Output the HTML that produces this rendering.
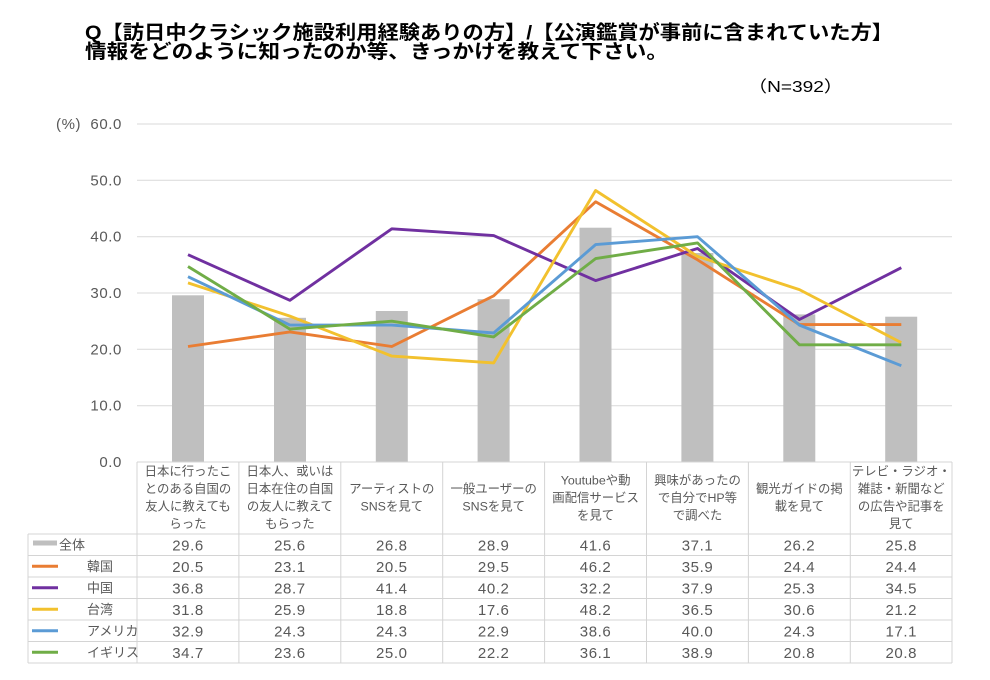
<!DOCTYPE html>
<html><head><meta charset="utf-8"><style>
html,body{margin:0;padding:0;background:#fff;}
svg{display:block;}
text{font-family:"Liberation Sans","Noto Sans CJK JP",sans-serif;}
.ax{font-size:15px;fill:#595959;letter-spacing:0.6px;}
.hd{font-size:12.4px;fill:#595959;text-anchor:middle;}
.v{font-size:15px;fill:#595959;text-anchor:middle;letter-spacing:0.6px;}
.lg{font-size:13px;fill:#595959;}
</style></head><body>
<svg width="990" height="680" viewBox="0 0 990 680" xmlns="http://www.w3.org/2000/svg">
<rect width="990" height="680" fill="#fff"/>
<!-- Title -->
<text x="85" y="39" font-size="19.5" font-weight="bold" fill="#000" textLength="808" lengthAdjust="spacingAndGlyphs">Q【訪日中クラシック施設利用経験ありの方】/【公演鑑賞が事前に含まれていた方】</text>
<text x="85" y="58" font-size="19.5" font-weight="bold" fill="#000" textLength="583" lengthAdjust="spacingAndGlyphs">情報をどのように知ったのか等、きっかけを教えて下さい。</text>
<text x="748" y="92" font-size="16" fill="#000" textLength="95" lengthAdjust="spacingAndGlyphs">（N=392）</text>

<!-- Gridlines -->
<g stroke="#d9d9d9" stroke-width="1">
<line x1="137" y1="124" x2="952" y2="124"/>
<line x1="137" y1="180.3" x2="952" y2="180.3"/>
<line x1="137" y1="236.7" x2="952" y2="236.7"/>
<line x1="137" y1="293" x2="952" y2="293"/>
<line x1="137" y1="349.3" x2="952" y2="349.3"/>
<line x1="137" y1="405.7" x2="952" y2="405.7"/>
</g>
<!-- Y labels -->
<g class="ax" text-anchor="end">
<text x="122" y="129">60.0</text>
<text x="122" y="185.3">50.0</text>
<text x="122" y="241.7">40.0</text>
<text x="122" y="298">30.0</text>
<text x="122" y="354.3">20.0</text>
<text x="122" y="410.7">10.0</text>
<text x="122" y="467">0.0</text>
</g>
<text class="ax" x="56" y="129">(%)</text>

<!-- Bars -->
<g fill="#bfbfbf">
<rect x="172" y="295.3" width="32" height="166.7"/>
<rect x="274" y="317.8" width="32" height="144.2"/>
<rect x="375.8" y="311" width="32" height="151"/>
<rect x="477.6" y="299.2" width="32" height="162.8"/>
<rect x="579.5" y="227.7" width="32" height="234.3"/>
<rect x="681.4" y="253" width="32" height="209"/>
<rect x="783.3" y="314.4" width="32" height="147.6"/>
<rect x="885.2" y="316.7" width="32" height="145.3"/>
</g>

<!-- Lines -->
<g fill="none" stroke-width="2.9" stroke-linejoin="round" stroke-linecap="butt">
<polyline stroke="#e97d33" points="188,346.5 289.9,331.9 391.8,346.5 493.7,295.8 595.6,201.8 697.5,259.8 799.4,324.6 901.3,324.6"/>
<polyline stroke="#7030a0" points="188,254.7 289.9,300.3 391.8,228.8 493.7,235.6 595.6,280.6 697.5,248.5 799.4,319.5 901.3,267.7"/>
<polyline stroke="#f2c12e" points="188,282.9 289.9,316.1 391.8,356.1 493.7,362.9 595.6,190.5 697.5,256.4 799.4,289.6 901.3,342.6"/>
<polyline stroke="#5b9bd5" points="188,276.7 289.9,325.1 391.8,325.1 493.7,333 595.6,244.6 697.5,236.7 799.4,325.1 901.3,365.7"/>
<polyline stroke="#70ad47" points="188,266.5 289.9,329.1 391.8,321.2 493.7,336.9 595.6,258.6 697.5,242.9 799.4,344.8 901.3,344.8"/>
</g>

<!-- Table borders -->
<g stroke="#d4d4d4" stroke-width="1" fill="none">
<line x1="137" y1="462" x2="952" y2="462"/>
<line x1="28" y1="534" x2="952" y2="534"/>
<line x1="28" y1="555.5" x2="952" y2="555.5"/>
<line x1="28" y1="577" x2="952" y2="577"/>
<line x1="28" y1="598.5" x2="952" y2="598.5"/>
<line x1="28" y1="620" x2="952" y2="620"/>
<line x1="28" y1="641.5" x2="952" y2="641.5"/>
<line x1="28" y1="663" x2="952" y2="663"/>
<line x1="28" y1="534" x2="28" y2="663"/>
<line x1="137" y1="462" x2="137" y2="663"/>
<line x1="238.9" y1="462" x2="238.9" y2="663"/>
<line x1="340.8" y1="462" x2="340.8" y2="663"/>
<line x1="442.7" y1="462" x2="442.7" y2="663"/>
<line x1="544.6" y1="462" x2="544.6" y2="663"/>
<line x1="646.5" y1="462" x2="646.5" y2="663"/>
<line x1="748.4" y1="462" x2="748.4" y2="663"/>
<line x1="850.3" y1="462" x2="850.3" y2="663"/>
<line x1="952" y1="462" x2="952" y2="663"/>
</g>

<!-- Header texts -->
<g class="hd">
<text x="188" y="475.7">日本に行ったこ</text>
<text x="188" y="493.2">とのある自国の</text>
<text x="188" y="510.7">友人に教えても</text>
<text x="188" y="528.2">らった</text>

<text x="289.9" y="475.7">日本人、或いは</text>
<text x="289.9" y="493.2">日本在住の自国</text>
<text x="289.9" y="510.7">の友人に教えて</text>
<text x="289.9" y="528.2">もらった</text>

<text x="391.8" y="493.2">アーティストの</text>
<text x="391.8" y="510.7">SNSを見て</text>

<text x="493.7" y="493.2">一般ユーザーの</text>
<text x="493.7" y="510.7">SNSを見て</text>

<text x="595.6" y="484.5">Youtubeや動</text>
<text x="595.6" y="502">画配信サービス</text>
<text x="595.6" y="519.5">を見て</text>

<text x="697.5" y="484.5">興味があったの</text>
<text x="697.5" y="502">で自分でHP等</text>
<text x="697.5" y="519.5">で調べた</text>

<text x="799.4" y="493.2">観光ガイドの掲</text>
<text x="799.4" y="510.7">載を見て</text>

<text x="901.3" y="475.7">テレビ・ラジオ・</text>
<text x="901.3" y="493.2">雑誌・新聞など</text>
<text x="901.3" y="510.7">の広告や記事を</text>
<text x="901.3" y="528.2">見て</text>
</g>

<!-- Legend column -->
<rect x="33" y="540.5" width="24" height="5" fill="#bfbfbf"/>
<text class="lg" x="59" y="549.5">全体</text>
<g stroke-width="3">
<line x1="32" y1="566.2" x2="58" y2="566.2" stroke="#e97d33"/>
<line x1="32" y1="587.7" x2="58" y2="587.7" stroke="#7030a0"/>
<line x1="32" y1="609.2" x2="58" y2="609.2" stroke="#f2c12e"/>
<line x1="32" y1="630.7" x2="58" y2="630.7" stroke="#5b9bd5"/>
<line x1="32" y1="652.2" x2="58" y2="652.2" stroke="#70ad47"/>
</g>
<text class="lg" x="87" y="571">韓国</text>
<text class="lg" x="87" y="592.5">中国</text>
<text class="lg" x="87" y="614">台湾</text>
<text class="lg" x="87" y="635.5">アメリカ</text>
<text class="lg" x="87" y="657">イギリス</text>

<!-- Values -->
<g class="v">
<text x="188" y="550.3">29.6</text><text x="289.9" y="550.3">25.6</text><text x="391.8" y="550.3">26.8</text><text x="493.7" y="550.3">28.9</text><text x="595.6" y="550.3">41.6</text><text x="697.5" y="550.3">37.1</text><text x="799.4" y="550.3">26.2</text><text x="901.3" y="550.3">25.8</text>
<text x="188" y="571.8">20.5</text><text x="289.9" y="571.8">23.1</text><text x="391.8" y="571.8">20.5</text><text x="493.7" y="571.8">29.5</text><text x="595.6" y="571.8">46.2</text><text x="697.5" y="571.8">35.9</text><text x="799.4" y="571.8">24.4</text><text x="901.3" y="571.8">24.4</text>
<text x="188" y="593.3">36.8</text><text x="289.9" y="593.3">28.7</text><text x="391.8" y="593.3">41.4</text><text x="493.7" y="593.3">40.2</text><text x="595.6" y="593.3">32.2</text><text x="697.5" y="593.3">37.9</text><text x="799.4" y="593.3">25.3</text><text x="901.3" y="593.3">34.5</text>
<text x="188" y="614.8">31.8</text><text x="289.9" y="614.8">25.9</text><text x="391.8" y="614.8">18.8</text><text x="493.7" y="614.8">17.6</text><text x="595.6" y="614.8">48.2</text><text x="697.5" y="614.8">36.5</text><text x="799.4" y="614.8">30.6</text><text x="901.3" y="614.8">21.2</text>
<text x="188" y="636.3">32.9</text><text x="289.9" y="636.3">24.3</text><text x="391.8" y="636.3">24.3</text><text x="493.7" y="636.3">22.9</text><text x="595.6" y="636.3">38.6</text><text x="697.5" y="636.3">40.0</text><text x="799.4" y="636.3">24.3</text><text x="901.3" y="636.3">17.1</text>
<text x="188" y="657.8">34.7</text><text x="289.9" y="657.8">23.6</text><text x="391.8" y="657.8">25.0</text><text x="493.7" y="657.8">22.2</text><text x="595.6" y="657.8">36.1</text><text x="697.5" y="657.8">38.9</text><text x="799.4" y="657.8">20.8</text><text x="901.3" y="657.8">20.8</text>
</g>
</svg>
</body></html>
